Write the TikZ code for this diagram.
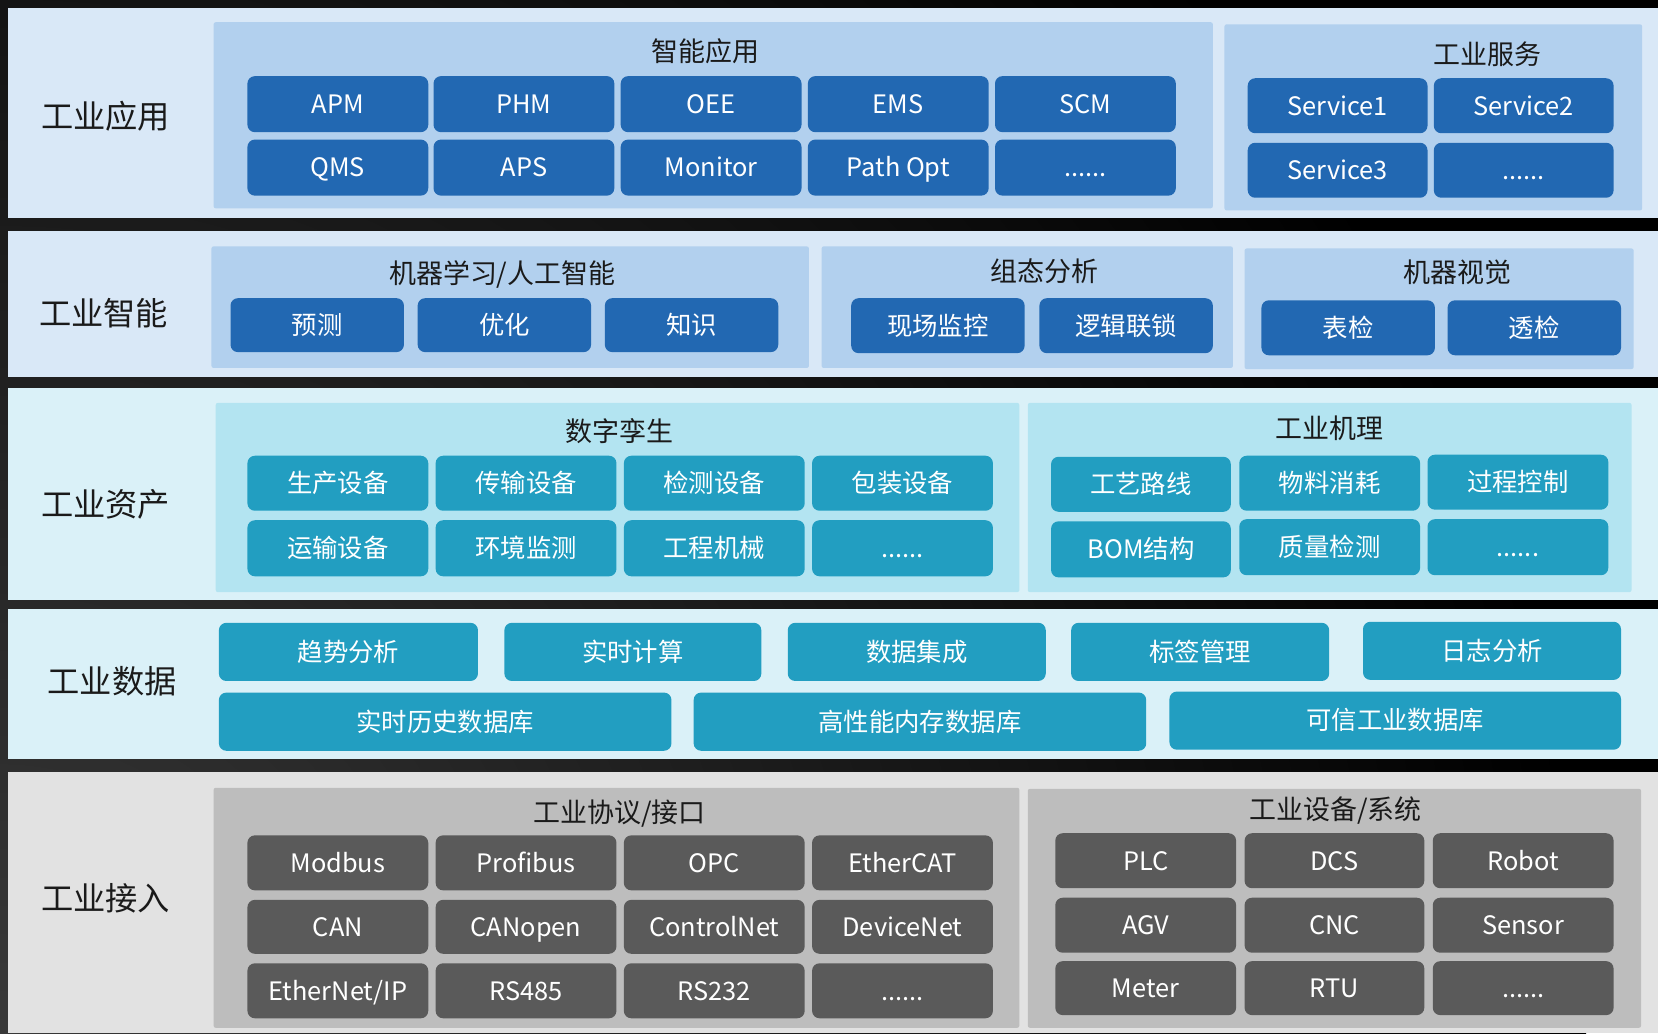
\documentclass[tikz,border=0pt]{standalone}
\usepackage{fontspec}
\newfontfamily\cjk{Noto Sans CJK SC}

\definecolor{bandblue}{RGB}{217,232,247}
\definecolor{panelblue}{RGB}{178,208,238}
\definecolor{boxblue}{RGB}{34,104,178}
\definecolor{bandcyan}{RGB}{218,241,248}
\definecolor{panelcyan}{RGB}{179,228,241}
\definecolor{boxteal}{RGB}{34,158,193}
\definecolor{bandgray}{RGB}{226,226,226}
\definecolor{panelgray}{RGB}{189,189,189}
\definecolor{boxgray}{RGB}{90,90,90}
\definecolor{textdark}{RGB}{26,26,26}
\definecolor{bgglow}{RGB}{56,56,56}

\tikzset{
  plain/.style={inner sep=0pt, outer sep=0pt, draw=none},
  band/.style={plain, fill=#1},
  panel/.style={plain, fill=#1, rounded corners=2pt},
  tile/.style={plain, fill=#1, rounded corners=7pt, text=white,
    font=\cjk\fontsize{24}{28}\selectfont, text height=20.6pt, text depth=2.9pt},
  ptitle/.style={plain, text=textdark,
    font=\cjk\fontsize{25.5}{30}\selectfont, text height=21.9pt, text depth=3.1pt},
  layer/.style={plain, text=textdark,
    font=\cjk\fontsize{30.5}{35}\selectfont, text height=26.2pt, text depth=3.7pt},
}

% \blk{name}{style}{x1}{y1}{x2}{y2}{text}: a block spanning the given corners
\newcommand\blk[7]{%
  \node[#2, minimum width={(#5-#3)*1pt}, minimum height={(#6-#4)*1pt}]
    (#1) at ({(#3+#5)/2},{(#4+#6)/2}) {#7};}

\begin{document}
\begin{tikzpicture}[x=1pt, y=-1pt]
\useasboundingbox (0,0) rectangle (1568,977);

% dark frame with a faint glow in the lower left
\fill[black] (0,0) rectangle (1568,977);
\begin{scope}
  \clip (0,0) rectangle (1568,977);
  \shade[inner color=bgglow, outer color=black] (0,977) circle (1500pt);
\end{scope}

% ---------- layer bands ----------
\blk{band1}{band=bandblue}{8}{8}{1568}{206}{}
\blk{band2}{band=bandblue}{8}{218}{1568}{357}{}
\blk{band3}{band=bandcyan}{8}{367}{1568}{567}{}
\blk{band4}{band=bandcyan}{8}{576}{1568}{718}{}
\blk{band5}{band=bandgray}{8}{730}{1568}{977}{}

\node[layer] (l1) at (100,110) {工业应用};
\node[layer] (l2) at (98,297) {工业智能};
\node[layer] (l3) at (100,477) {工业资产};
\node[layer] (l4) at (106,645) {工业数据};
\node[layer] (l5) at (100,850) {工业接入};

% ---------- 工业应用 ----------
\blk{p-app}{panel=panelblue}{202}{21}{1147}{197}{}
\blk{p-svc}{panel=panelblue}{1158}{23}{1553}{199}{}
\node[ptitle] (t-app) at (667,49) {智能应用};
\node[ptitle] (t-svc) at (1407,52) {工业服务};

\blk{apm}{tile=boxblue}{234}{72}{405}{125}{APM}
\blk{phm}{tile=boxblue}{410}{72}{581}{125}{PHM}
\blk{oee}{tile=boxblue}{587}{72}{758}{125}{OEE}
\blk{ems}{tile=boxblue}{764}{72}{935}{125}{EMS}
\blk{scm}{tile=boxblue}{941}{72}{1112}{125}{SCM}
\blk{qms}{tile=boxblue}{234}{132}{405}{185}{QMS}
\blk{aps}{tile=boxblue}{410}{132}{581}{185}{APS}
\blk{mon}{tile=boxblue}{587}{132}{758}{185}{Monitor}
\blk{path}{tile=boxblue}{764}{132}{935}{185}{Path Opt}
\blk{appmore}{tile=boxblue}{941}{132}{1112}{185}{......}

\blk{s1}{tile=boxblue}{1180}{74}{1350}{126}{Service1}
\blk{s2}{tile=boxblue}{1356}{74}{1526}{126}{Service2}
\blk{s3}{tile=boxblue}{1180}{135}{1350}{187}{Service3}
\blk{svcmore}{tile=boxblue}{1356}{135}{1526}{187}{......}

% ---------- 工业智能 ----------
\blk{p-ml}{panel=panelblue}{200}{233}{765}{348}{}
\blk{p-cfg}{panel=panelblue}{777}{233}{1166}{348}{}
\blk{p-vis}{panel=panelblue}{1177}{235}{1545}{349}{}
\node[ptitle] (t-ml) at (475,259) {机器学习/人工智能};
\node[ptitle] (t-cfg) at (988,257) {组态分析};
\node[ptitle] (t-vis) at (1378,258) {机器视觉};

\blk{pred}{tile=boxblue}{218}{282}{382}{333}{预测}
\blk{opt}{tile=boxblue}{395}{282}{559}{333}{优化}
\blk{know}{tile=boxblue}{572}{282}{736}{333}{知识}
\blk{mon2}{tile=boxblue}{805}{282}{969}{334}{现场监控}
\blk{lock}{tile=boxblue}{983}{282}{1147}{334}{逻辑联锁}
\blk{surf}{tile=boxblue}{1193}{284}{1357}{336}{表检}
\blk{xray}{tile=boxblue}{1369}{284}{1533}{336}{透检}

% ---------- 工业资产 ----------
\blk{p-twin}{panel=panelcyan}{204}{381}{964}{560}{}
\blk{p-mech}{panel=panelcyan}{972}{381}{1543}{560}{}
\node[ptitle] (t-twin) at (586,408) {数字孪生};
\node[ptitle] (t-mech) at (1257,405) {工业机理};

\blk{d1}{tile=boxteal}{234}{431}{405}{483}{生产设备}
\blk{d2}{tile=boxteal}{412}{431}{583}{483}{传输设备}
\blk{d3}{tile=boxteal}{590}{431}{761}{483}{检测设备}
\blk{d4}{tile=boxteal}{768}{431}{939}{483}{包装设备}
\blk{d5}{tile=boxteal}{234}{492}{405}{545}{运输设备}
\blk{d6}{tile=boxteal}{412}{492}{583}{545}{环境监测}
\blk{d7}{tile=boxteal}{590}{492}{761}{545}{工程机械}
\blk{d8}{tile=boxteal}{768}{492}{939}{545}{......}

\blk{m1}{tile=boxteal}{994}{432}{1164}{484}{工艺路线}
\blk{m2}{tile=boxteal}{1172}{431}{1343}{483}{物料消耗}
\blk{m3}{tile=boxteal}{1350}{430}{1521}{482}{过程控制}
\blk{m4}{tile=boxteal}{994}{493}{1164}{546}{BOM结构}
\blk{m5}{tile=boxteal}{1172}{491}{1343}{544}{质量检测}
\blk{m6}{tile=boxteal}{1350}{491}{1521}{544}{......}

% ---------- 工业数据 ----------
\blk{k1}{tile=boxteal}{207}{589}{452}{644}{趋势分析}
\blk{k2}{tile=boxteal}{477}{589}{720}{644}{实时计算}
\blk{k3}{tile=boxteal}{745}{589}{989}{644}{数据集成}
\blk{k4}{tile=boxteal}{1013}{589}{1257}{644}{标签管理}
\blk{k5}{tile=boxteal}{1289}{588}{1533}{643}{日志分析}
\blk{db1}{tile=boxteal}{207}{655}{635}{710}{实时历史数据库}
\blk{db2}{tile=boxteal}{656}{655}{1084}{710}{高性能内存数据库}
\blk{db3}{tile=boxteal}{1106}{654}{1533}{709}{可信工业数据库}

% ---------- 工业接入 ----------
\blk{p-proto}{panel=panelgray}{202}{745}{964}{972}{}
\blk{p-dev}{panel=panelgray}{972}{746}{1552}{972}{}
\node[ptitle] (t-proto) at (586,768) {工业协议/接口};
\node[ptitle] (t-dev) at (1263,766) {工业设备/系统};

\blk{c1}{tile=boxgray}{234}{790}{405}{842}{Modbus}
\blk{c2}{tile=boxgray}{412}{790}{583}{842}{Profibus}
\blk{c3}{tile=boxgray}{590}{790}{761}{842}{OPC}
\blk{c4}{tile=boxgray}{768}{790}{939}{842}{EtherCAT}
\blk{c5}{tile=boxgray}{234}{851}{405}{902}{CAN}
\blk{c6}{tile=boxgray}{412}{851}{583}{902}{CANopen}
\blk{c7}{tile=boxgray}{590}{851}{761}{902}{ControlNet}
\blk{c8}{tile=boxgray}{768}{851}{939}{902}{DeviceNet}
\blk{c9}{tile=boxgray}{234}{911}{405}{963}{EtherNet/IP}
\blk{c10}{tile=boxgray}{412}{911}{583}{963}{RS485}
\blk{c11}{tile=boxgray}{590}{911}{761}{963}{RS232}
\blk{c12}{tile=boxgray}{768}{911}{939}{963}{......}

\blk{e1}{tile=boxgray}{998}{788}{1169}{840}{PLC}
\blk{e2}{tile=boxgray}{1177}{788}{1347}{840}{DCS}
\blk{e3}{tile=boxgray}{1355}{788}{1526}{840}{Robot}
\blk{e4}{tile=boxgray}{998}{849}{1169}{901}{AGV}
\blk{e5}{tile=boxgray}{1177}{849}{1347}{901}{CNC}
\blk{e6}{tile=boxgray}{1355}{849}{1526}{901}{Sensor}
\blk{e7}{tile=boxgray}{998}{909}{1169}{960}{Meter}
\blk{e8}{tile=boxgray}{1177}{909}{1347}{960}{RTU}
\blk{e9}{tile=boxgray}{1355}{909}{1526}{960}{......}
\end{tikzpicture}
\end{document}
